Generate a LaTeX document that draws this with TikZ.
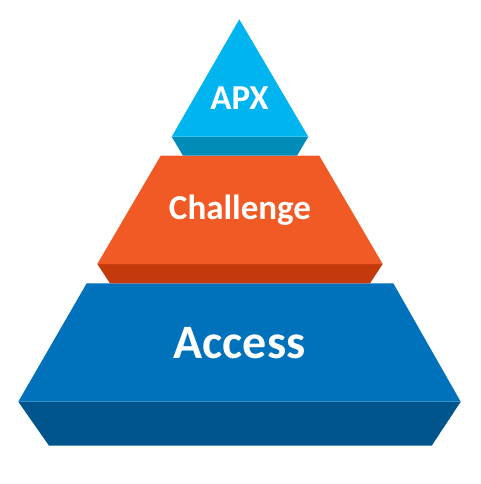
\documentclass[tikz,border=0pt]{standalone}
\usepackage{fontspec}
\setmainfont{Carlito}
\usepackage{tikz}
\definecolor{apxcyan}{RGB}{0,181,239}
\definecolor{apxcyandark}{RGB}{0,140,184}
\definecolor{chorange}{RGB}{241,90,36}
\definecolor{chorangedark}{RGB}{196,58,12}
\definecolor{acblue}{RGB}{0,114,188}
\definecolor{acbluedark}{RGB}{0,85,140}

\begin{document}
\begin{tikzpicture}[x=1pt, y=-1pt,
    tierlabel/.style={text=white, anchor=base, inner sep=0pt, font=\bfseries\fontsize{35}{42}\selectfont}]
\useasboundingbox (0,0) rectangle (480,484);

% Access tier
\fill[acbluedark] (18.3,401.7) -- (460.7,401.7) -- (431.7,445.7) -- (49,445.7) -- cycle;
\fill[acblue] (86.7,283.3) -- (393.3,283.3) -- (460.7,401.7) -- (18.3,401.7) -- cycle;

% Challenge tier
\fill[chorangedark] (97.3,264) -- (382.7,264) -- (370,283.3) -- (110,283.3) -- cycle;
\fill[chorange] (160.7,155.7) -- (319.3,155.7) -- (382.7,264) -- (97.3,264) -- cycle;

% APX tier
\fill[apxcyandark] (171.7,136.7) -- (308.3,136.7) -- (297,155.7) -- (183,155.7) -- cycle;
\fill[apxcyan] (239.3,19.3) -- (308.3,136.7) -- (171.7,136.7) -- cycle;

% Labels
\node[tierlabel] (apx) at (239.5,109.3) {APX};
\node[tierlabel] (challenge) at (240,219.3) {Challenge};
\node[tierlabel, font=\bfseries\fontsize{48}{58}\selectfont] (access) at (239.5,358.3) {Access};
\end{tikzpicture}
\end{document}
